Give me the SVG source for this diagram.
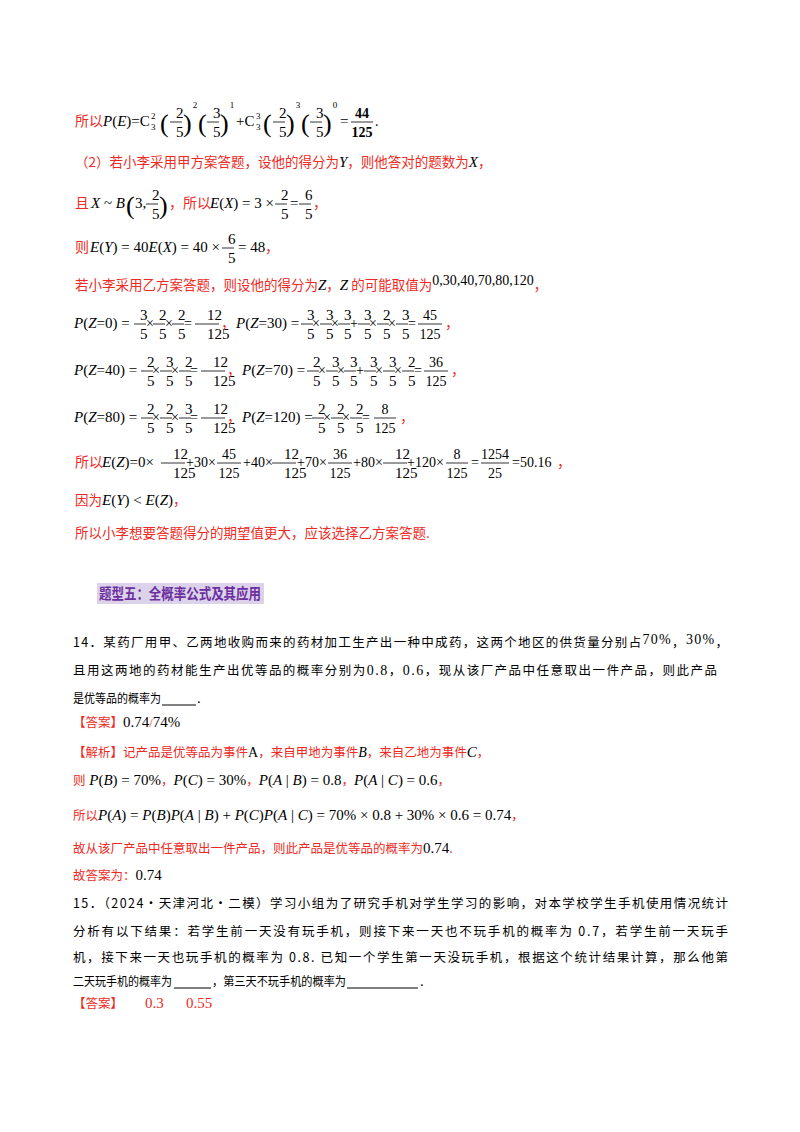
<svg xmlns="http://www.w3.org/2000/svg" width="800" height="1132" viewBox="0 0 800 1132">
<style>
text{font-family:"Liberation Serif","Noto Sans CJK SC",serif;font-size:15px;fill:#000}
.r{fill:#ee2a24}
.k{fill:#000}
.i{font-style:italic}
.c{font-family:"Noto Sans CJK SC",sans-serif;font-size:13.5px}
.c2{font-family:"Noto Sans CJK SC",sans-serif;font-size:12.5px}
.f text{text-anchor:middle;font-size:14px}
.st{text-anchor:start !important}
line{stroke:#000;stroke-width:0.8}
.p{font-size:26px !important;font-weight:100}
.s{font-size:9px !important}
.h{font-family:"Noto Sans CJK SC",sans-serif;font-size:15px;font-weight:bold;fill:#6b2fa0}
.u{stroke:#000;stroke-width:1}
</style>
<defs>
<g id="f25"><text y="-8">2</text><line x1="-6" x2="6" y1="-4" y2="-4"/><text y="11">5</text></g>
<g id="f35"><text y="-8">3</text><line x1="-6" x2="6" y1="-4" y2="-4"/><text y="11">5</text></g>
<g id="f65"><text y="-8">6</text><line x1="-6" x2="6" y1="-4" y2="-4"/><text y="11">5</text></g>
<g id="f12"><text y="-8">12</text><line x1="-12" x2="12" y1="-4" y2="-4"/><text y="11">125</text></g>
</defs>

<!-- line 1 -->
<g id="l1" class="f">
<text x="75" y="126" class="r c st">所以</text>
<text x="103" y="126" class="st" style="font-size:15px"><tspan class="i">P</tspan>(<tspan class="i">E</tspan>)=C</text>
<text x="151" y="119" class="s st">2</text><text x="151" y="130" class="s st">3</text>
<text x="160" y="132" class="p st">(</text><use href="#f25" x="176" y="126"/><text x="183" y="132" class="p st">)</text><text x="195" y="108" class="s">2</text>
<text x="198" y="132" class="p st">(</text><use href="#f35" x="213" y="126"/><text x="220" y="132" class="p st">)</text><text x="232" y="108" class="s">1</text>
<text x="236" y="126" class="st" style="font-size:15px">+C</text>
<text x="256" y="119" class="s st">3</text><text x="256" y="130" class="s st">3</text>
<text x="263" y="132" class="p st">(</text><use href="#f25" x="279" y="126"/><text x="286" y="132" class="p st">)</text><text x="298" y="108" class="s">3</text>
<text x="301" y="132" class="p st">(</text><use href="#f35" x="316" y="126"/><text x="323" y="132" class="p st">)</text><text x="335" y="108" class="s">0</text>
<text x="340" y="126" class="st" style="font-size:15px">=</text>
<text x="362" y="118" style="font-weight:bold">44</text><line x1="351" x2="373" y1="122" y2="122"/><text x="362" y="137" style="font-weight:bold">125</text>
<text x="375" y="126" class="st">.</text>
</g>

<!-- line 2 -->
<text id="l2" x="75" y="167" class="r c">（2）若小李采用甲方案答题，设他的得分为<tspan class="k i" style="font-family:'Liberation Serif';font-size:15px">Y</tspan>，则他答对的题数为<tspan class="k i" style="font-family:'Liberation Serif';font-size:15px">X</tspan>，</text>

<!-- line 3 -->
<g id="l3" class="f">
<text x="75" y="208" class="r c st">且</text>
<text x="91" y="208" class="st" style="font-size:15px"><tspan class="i">X</tspan> ~ <tspan class="i">B</tspan></text>
<text x="126" y="214" class="p st">(</text>
<text x="135" y="208" class="st" style="font-size:15px">3,</text><use href="#f25" x="152" y="208"/>
<text x="159" y="214" class="p st">)</text>
<text x="169" y="208" class="r c st">，所以</text>
<text x="210" y="208" class="st" style="font-size:15px"><tspan class="i">E</tspan>(<tspan class="i">X</tspan>) = 3 ×</text>
<use href="#f25" x="281" y="208"/><text x="290" y="208" class="st" style="font-size:15px">=</text><use href="#f65" x="305" y="208"/>
<text x="313" y="208" class="r c st">，</text>
</g>

<!-- line 4 -->
<g id="l4" class="f">
<text x="75" y="252" class="r c st">则</text>
<text x="90" y="252" class="st" style="font-size:15px"><tspan class="i">E</tspan>(<tspan class="i">Y</tspan>) = 40<tspan class="i">E</tspan>(<tspan class="i">X</tspan>) = 40 ×</text>
<use href="#f65" x="228" y="252"/><text x="238" y="252" class="st" style="font-size:15px">= 48</text>
<text x="265" y="252" class="r c st">，</text>
</g>

<!-- line 5 -->
<text id="l5" x="75" y="290" class="r c">若小李采用乙方案答题，则设他的得分为<tspan class="k i" style="font-family:'Liberation Serif';font-size:15px">Z</tspan>，<tspan class="k i" style="font-family:'Liberation Serif';font-size:15px">Z</tspan> 的可能取值为<tspan class="k" style="font-family:'Liberation Serif';font-size:14px" dy="-5">0,30,40,70,80,120</tspan><tspan dy="5">，</tspan></text>

<!-- line 6 -->
<g id="l6" class="f">
<text x="74" y="328" class="st" style="font-size:15px"><tspan class="i">P</tspan>(<tspan class="i">Z</tspan>=0) =</text>
<use href="#f35" x="140" y="328"/><text x="150" y="328">×</text><use href="#f25" x="159" y="328"/><text x="169" y="328">×</text><use href="#f25" x="178" y="328"/>
<text x="188" y="328">=</text><use href="#f12" x="207" y="328"/><text x="228" y="328" class="r">，</text>
<text x="236" y="328" class="st" style="font-size:15px"><tspan class="i">P</tspan>(<tspan class="i">Z</tspan>=30) =</text>
<use href="#f35" x="307" y="328"/><text x="316" y="328">×</text><use href="#f35" x="326" y="328"/><text x="335" y="328">×</text><use href="#f35" x="344" y="328"/>
<text x="354" y="328">+</text><use href="#f35" x="364" y="328"/><text x="373" y="328">×</text><use href="#f25" x="383" y="328"/><text x="392" y="328">×</text><use href="#f35" x="402" y="328"/>
<text x="412" y="328">=</text><text x="430" y="320">45</text><line x1="418" x2="442" y1="324" y2="324"/><text x="430" y="339">125</text><text x="452" y="328" class="r">，</text>
</g>

<!-- line 7 -->
<g id="l7" class="f">
<text x="74" y="375" class="st" style="font-size:15px"><tspan class="i">P</tspan>(<tspan class="i">Z</tspan>=40) =</text>
<use href="#f25" x="147" y="375"/><text x="156" y="375">×</text><use href="#f35" x="166" y="375"/><text x="175" y="375">×</text><use href="#f25" x="185" y="375"/>
<text x="194" y="375">=</text><use href="#f12" x="213" y="375"/><text x="234" y="375" class="r">，</text>
<text x="242" y="375" class="st" style="font-size:15px"><tspan class="i">P</tspan>(<tspan class="i">Z</tspan>=70) =</text>
<use href="#f25" x="313" y="375"/><text x="322" y="375">×</text><use href="#f35" x="332" y="375"/><text x="341" y="375">×</text><use href="#f35" x="350" y="375"/>
<text x="360" y="375">+</text><use href="#f35" x="370" y="375"/><text x="379" y="375">×</text><use href="#f35" x="389" y="375"/><text x="398" y="375">×</text><use href="#f25" x="408" y="375"/>
<text x="418" y="375">=</text><text x="436" y="367">36</text><line x1="424" x2="448" y1="371" y2="371"/><text x="436" y="386">125</text><text x="458" y="375" class="r">，</text>
</g>

<!-- line 8 -->
<g id="l8" class="f">
<text x="74" y="422" class="st" style="font-size:15px"><tspan class="i">P</tspan>(<tspan class="i">Z</tspan>=80) =</text>
<use href="#f25" x="147" y="422"/><text x="156" y="422">×</text><use href="#f25" x="166" y="422"/><text x="175" y="422">×</text><use href="#f35" x="185" y="422"/>
<text x="194" y="422">=</text><use href="#f12" x="213" y="422"/><text x="234" y="422" class="r">，</text>
<text x="242" y="422" class="st" style="font-size:15px"><tspan class="i">P</tspan>(<tspan class="i">Z</tspan>=120) =</text>
<use href="#f25" x="318" y="422"/><text x="327" y="422">×</text><use href="#f25" x="337" y="422"/><text x="346" y="422">×</text><use href="#f25" x="356" y="422"/>
<text x="366" y="422">=</text><text x="385" y="414">8</text><line x1="374" x2="396" y1="418" y2="418"/><text x="385" y="433">125</text><text x="407" y="422" class="r">，</text>
</g>

<!-- line 9 -->
<g id="l9" class="f">
<text x="75" y="467" class="r c st">所以</text>
<text x="102" y="467" class="st" style="font-size:15px"><tspan class="i">E</tspan>(<tspan class="i">Z</tspan>)=0×</text>
<use href="#f12" x="173" y="467"/><text x="186" y="467" class="st">+30×</text>
<text x="229" y="459">45</text><line x1="217" x2="241" y1="463" y2="463"/><text x="229" y="478">125</text>
<text x="243" y="467" class="st">+40×</text><use href="#f12" x="284" y="467"/>
<text x="297" y="467" class="st">+70×</text>
<text x="340" y="459">36</text><line x1="328" x2="352" y1="463" y2="463"/><text x="340" y="478">125</text>
<text x="353" y="467" class="st">+80×</text><use href="#f12" x="395" y="467"/>
<text x="407" y="467" class="st">+120×</text>
<text x="457" y="459">8</text><line x1="446" x2="468" y1="463" y2="463"/><text x="457" y="478">125</text>
<text x="475" y="467">=</text>
<text x="495" y="459">1254</text><line x1="481" x2="509" y1="463" y2="463"/><text x="495" y="478">25</text>
<text x="512" y="467" class="st">=50.16</text>
<text x="564" y="467" class="r">，</text>
</g>

<!-- line 10 -->
<text id="l10" x="75" y="505" class="r c">因为<tspan class="k" style="font-family:'Liberation Serif';font-size:15px"><tspan class="i">E</tspan>(<tspan class="i">Y</tspan>) &lt; <tspan class="i">E</tspan>(<tspan class="i">Z</tspan>)</tspan>，</text>

<!-- line 11 -->
<text id="l11" x="75" y="538" class="r c">所以小李想要答题得分的期望值更大，应该选择乙方案答题.</text>

<!-- heading -->
<g id="heading">
<rect x="97" y="583" width="167" height="21" fill="#dcd3ea"/>
<text x="99" y="599" class="h" textLength="162" lengthAdjust="spacingAndGlyphs">题型五：全概率公式及其应用</text>
</g>

<!-- Q14 -->
<g id="q14">
<text x="73" y="647" class="c2" textLength="655" lengthAdjust="spacing">14．某药厂用甲、乙两地收购而来的药材加工生产出一种中成药，这两个地区的供货量分别占<tspan font-family="Liberation Serif" font-size="14" dy="-3">70%</tspan><tspan dy="3">，</tspan><tspan font-family="Liberation Serif" font-size="14" dy="-3">30%</tspan><tspan dy="3">，</tspan></text>
<text x="73" y="675" class="c2" textLength="644" lengthAdjust="spacing">且用这两地的药材能生产出优等品的概率分别为<tspan font-family="Liberation Serif" font-size="14">0.8</tspan>，<tspan font-family="Liberation Serif" font-size="14">0.6</tspan>，现从该厂产品中任意取出一件产品，则此产品</text>
<text x="73" y="703" class="c2" textLength="88" lengthAdjust="spacingAndGlyphs">是优等品的概率为</text>
<line x1="162" x2="196" y1="705" y2="705" class="u"/>
<text x="197" y="703">.</text>
<text x="73" y="727" class="r c2">【答案】<tspan class="k" style="font-family:'Liberation Serif';font-size:15px">0.74</tspan><tspan class="r" style="font-family:'Liberation Serif'">/</tspan><tspan class="k" style="font-family:'Liberation Serif';font-size:15px">74%</tspan></text>
<text x="73" y="757" class="r c2">【解析】记产品是优等品为事件<tspan class="k" style="font-family:'Liberation Serif';font-size:14px">A</tspan>，来自甲地为事件<tspan class="k i" style="font-family:'Liberation Serif';font-size:14px">B</tspan>，来自乙地为事件<tspan class="k i" style="font-family:'Liberation Serif';font-size:15px">C</tspan>，</text>
<text x="73" y="785" class="r c2">则<tspan class="k" style="font-family:'Liberation Serif';font-size:15px"> <tspan class="i">P</tspan>(<tspan class="i">B</tspan>) = 70%</tspan>，<tspan class="k" style="font-family:'Liberation Serif';font-size:15px"><tspan class="i">P</tspan>(<tspan class="i">C</tspan>) = 30%</tspan>，<tspan class="k" style="font-family:'Liberation Serif';font-size:15px"><tspan class="i">P</tspan>(<tspan class="i">A</tspan> | <tspan class="i">B</tspan>) = 0.8</tspan>，<tspan class="k" style="font-family:'Liberation Serif';font-size:15px"><tspan class="i">P</tspan>(<tspan class="i">A</tspan> | <tspan class="i">C</tspan>) = 0.6</tspan>，</text>
<text x="73" y="820" class="r c2">所以<tspan class="k" style="font-family:'Liberation Serif';font-size:15px"><tspan class="i">P</tspan>(<tspan class="i">A</tspan>) = <tspan class="i">P</tspan>(<tspan class="i">B</tspan>)<tspan class="i">P</tspan>(<tspan class="i">A</tspan> | <tspan class="i">B</tspan>) + <tspan class="i">P</tspan>(<tspan class="i">C</tspan>)<tspan class="i">P</tspan>(<tspan class="i">A</tspan> | <tspan class="i">C</tspan>) = 70% × 0.8 + 30% × 0.6 = 0.74</tspan>，</text>
<text x="73" y="853" class="r c2">故从该厂产品中任意取出一件产品，则此产品是优等品的概率为<tspan class="k" style="font-family:'Liberation Serif';font-size:15px">0.74</tspan>.</text>
<text x="73" y="880" class="r c2">故答案为：<tspan class="k" style="font-family:'Liberation Serif';font-size:15px">0.74</tspan></text>
</g>

<!-- Q15 -->
<g id="q15">
<text x="73" y="908" class="c2" textLength="655" lengthAdjust="spacing">15．（2024·天津河北·二模）学习小组为了研究手机对学生学习的影响，对本学校学生手机使用情况统计</text>
<text x="73" y="936" class="c2" textLength="655" lengthAdjust="spacing">分析有以下结果：若学生前一天没有玩手机，则接下来一天也不玩手机的概率为 0.7，若学生前一天玩手</text>
<text x="73" y="962" class="c2" textLength="655" lengthAdjust="spacing">机，接下来一天也玩手机的概率为 0.8. 已知一个学生第一天没玩手机，根据这个统计结果计算，那么他第</text>
<text x="73" y="986" class="c2" textLength="99" lengthAdjust="spacingAndGlyphs">二天玩手机的概率为</text>
<line x1="174" x2="211" y1="988" y2="988" class="u"/>
<text x="212" y="986" class="c2" textLength="134" lengthAdjust="spacingAndGlyphs">，第三天不玩手机的概率为</text>
<line x1="347" x2="418" y1="988" y2="988" class="u"/>
<text x="420" y="986">.</text>
<text x="73" y="1008" class="r c2">【答案】</text>
<text x="145" y="1008" class="r">0.3</text>
<text x="186" y="1008" class="r">0.55</text>
</g>
</svg>
